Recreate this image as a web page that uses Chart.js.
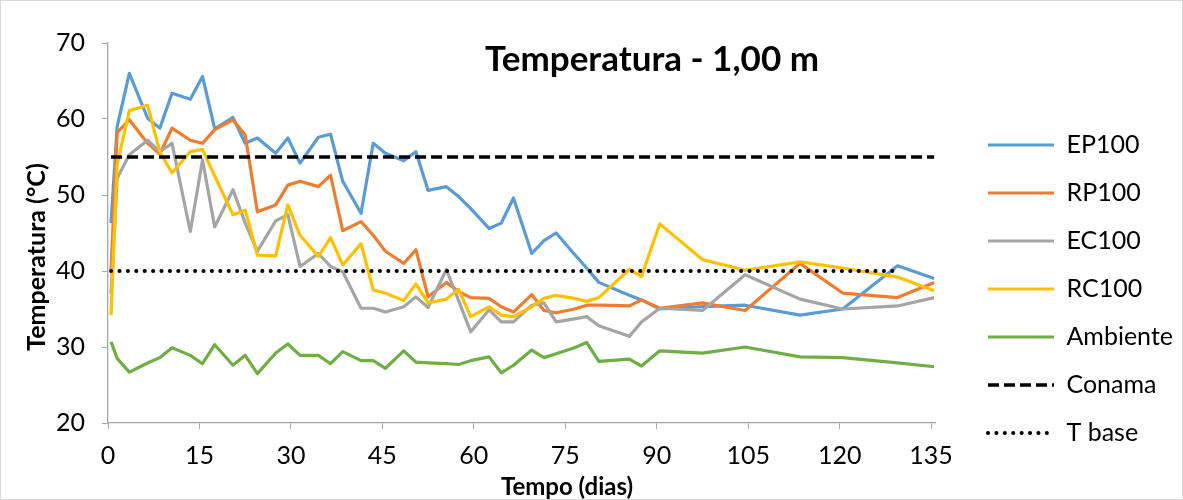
<!DOCTYPE html>
<html>
<head>
<meta charset="utf-8">
<script src="https://cdn.jsdelivr.net/npm/chart.js@4/dist/chart.umd.min.js"></script>
<style>
  body { margin: 0; background: #fff; }
  #wrap { width: 1183px; height: 500px; }
</style>
</head>
<body>
<div id="wrap"><canvas id="chart" width="1183" height="500"></canvas></div>
<script>
// sampling days (dias)
const days = [0.5, 1.5, 3.5, 6.5, 8.5, 10.5, 13.5, 15.5, 17.5, 20.5, 22.5, 24.5, 27.5, 29.5, 31.5,
  34.5, 36.5, 38.5, 41.5, 43.5, 45.5, 48.5, 50.5, 52.5, 55.5, 57.5, 59.5, 62.5, 64.5, 66.5,
  69.5, 71.5, 73.5, 76.5, 78.5, 80.5, 85.5, 87.5, 90.5, 97.5, 104.5, 113.5, 120.5, 129.5, 135.5]

const ep100 = [46.3, 59.0, 66.0, 60.1, 58.8, 63.4, 62.6, 65.6, 58.7, 60.2, 56.8, 57.5, 55.5, 57.5, 54.2,
  57.6, 58.0, 51.8, 47.6, 56.8, 55.5, 54.5, 55.7, 50.6, 51.1, 49.8, 48.2, 45.6, 46.3, 49.6,
  42.3, 44.0, 45.0, 42.2, 40.4, 38.5, 36.8, 36.2, 35.0, 35.3, 35.5, 34.2, 35.0, 40.7, 39.0]

const rp100 = [40.0, 58.2, 59.9, 56.8, 55.4, 58.8, 57.2, 56.8, 58.6, 59.9, 57.9, 47.8, 48.7, 51.3, 51.8,
  51.1, 52.6, 45.3, 46.5, 44.7, 42.6, 41.0, 42.8, 36.6, 38.5, 37.3, 36.5, 36.4, 35.3, 34.6,
  36.9, 34.8, 34.5, 35.0, 35.5, 35.5, 35.4, 36.2, 35.1, 35.8, 34.8, 41.0, 37.1, 36.5, 38.5]

const ec100 = [37.0, 52.2, 55.3, 57.2, 55.7, 56.8, 45.2, 54.6, 45.8, 50.7, 46.3, 42.6, 46.6, 47.4, 40.6,
  42.3, 40.6, 39.9, 35.1, 35.1, 34.6, 35.3, 36.6, 35.2, 40.2, 36.1, 32.0, 34.9, 33.3, 33.3,
  35.5, 35.8, 33.3, 33.7, 34.0, 32.8, 31.4, 33.3, 35.1, 34.8, 39.5, 36.3, 35.0, 35.4, 36.5]

const rc100 = [34.2, 54.0, 61.1, 61.8, 55.7, 52.9, 55.7, 56.0, 52.5, 47.4, 48.0, 42.1, 42.0, 48.7, 44.7,
  41.9, 44.4, 40.8, 43.6, 37.5, 37.1, 36.1, 38.3, 35.8, 36.3, 37.6, 34.0, 35.3, 34.2, 34.0,
  35.3, 36.4, 36.8, 36.4, 36.0, 36.5, 40.2, 39.3, 46.2, 41.5, 40.1, 41.2, 40.4, 39.2, 37.4]

const ambiente = [30.7, 28.5, 26.7, 27.9, 28.6, 29.9, 28.9, 27.8, 30.3, 27.6, 28.9, 26.5, 29.2, 30.4, 28.9,
  28.9, 27.8, 29.4, 28.2, 28.2, 27.2, 29.5, 28.0, 27.9, 27.8, 27.7, 28.2, 28.7, 26.6, 27.6,
  29.6, 28.6, 29.1, 29.9, 30.6, 28.1, 28.4, 27.5, 29.5, 29.2, 30.0, 28.7, 28.6, 27.9, 27.4]

// reference lines
const conamaX = [0.5, 135.5]
const conamaY = [55, 55]
const tbaseX = [0.5, 129.5]
const tbaseY = [40, 40]

const xTicks = [0, 15, 30, 45, 60, 75, 90, 105, 120, 135]

function pts(xs, ys) {
    return xs.map((x, i) => ({x: x, y: ys[i]}))
}

const FONT = 'Lato, "Open Sans", sans-serif'

const series = [
    {label: 'EP100', data: pts(days, ep100), color: '#5B9BD5'},
    {label: 'RP100', data: pts(days, rp100), color: '#ED7D31'},
    {label: 'EC100', data: pts(days, ec100), color: '#A5A5A5'},
    {label: 'RC100', data: pts(days, rc100), color: '#FFC000'},
    {label: 'Ambiente', data: pts(days, ambiente), color: '#70AD47'},
    {label: 'Conama', data: pts(conamaX, conamaY), color: '#000', dash: [11, 5], cap: 'butt', width: 3.4},
    {label: 'T base', data: pts(tbaseX, tbaseY), color: '#000', dash: [0.1, 8.3], cap: 'round', width: 4}
]

const datasets = series.map((s, i) => ({
    label: s.label,
    data: s.data,
    borderColor: s.color,
    backgroundColor: s.color,
    borderWidth: s.width || 3.2,
    borderDash: s.dash || [],
    borderCapStyle: s.cap || 'butt',
    borderJoinStyle: 'round',
    pointRadius: 0,
    tension: 0,
    fill: false,
    order: series.length - i   // later series drawn on top, like Excel
}))

// chart title, axis titles and outer frame
const extras = {
    id: 'extras',
    afterDraw(chart) {
        const ctx = chart.ctx
        ctx.save()
        ctx.strokeStyle = '#d9d9d9'
        ctx.lineWidth = 1
        ctx.strokeRect(0.5, 0.5, chart.width - 1, chart.height - 1)
        ctx.fillStyle = '#000'
        ctx.textAlign = 'center'
        ctx.textBaseline = 'middle'
        ctx.font = 'bold 35px ' + FONT
        ctx.fillText('Temperatura - 1,00 m', 652, 60)
        ctx.font = 'bold 24px ' + FONT
        ctx.fillText('Tempo (dias)', 567, 487)
        ctx.translate(37, 257)
        ctx.rotate(-Math.PI / 2)
        ctx.font = 'bold 25px ' + FONT
        ctx.fillText('Temperatura (°C)', 0, 0)
        ctx.restore()
    }
}

new Chart(document.getElementById('chart'), {
    type: 'line',
    data: {datasets: datasets},
    plugins: [extras],
    options: {
        responsive: false,
        animation: false,
        layout: {padding: {top: 43, right: 0, bottom: 0, left: 0}},
        plugins: {
            tooltip: {enabled: false},
            legend: {
                position: 'right',
                reverse: true,
                title: {display: true, text: '', font: {size: 10}, padding: {top: 23, bottom: 0}},
                labels: {
                    usePointStyle: true,
                    pointStyle: 'line',
                    pointStyleWidth: 66,
                    padding: 23,
                    color: '#000',
                    font: {family: FONT, size: 25},
                    generateLabels(chart) {
                        const items = Chart.defaults.plugins.legend.labels.generateLabels(chart)
                        items.forEach(it => {
                            const ds = chart.data.datasets[it.datasetIndex]
                            it.lineDash = ds.borderDash
                            it.lineCap = ds.borderCapStyle
                        })
                        return items
                    }
                }
            }
        },
        scales: {
            x: {
                type: 'linear',
                min: 0,
                max: 135.8,
                afterBuildTicks: s => { s.ticks = xTicks.map(v => ({value: v})) },
                afterFit: s => { s.height = 77 },
                grid: {drawOnChartArea: false, drawTicks: true, tickLength: 6, color: '#a6a6a6'},
                border: {display: true, color: '#a6a6a6', width: 1.3},
                ticks: {color: '#000', padding: 12, maxRotation: 0, font: {family: FONT, size: 25}}
            },
            y: {
                min: 20,
                max: 70,
                afterFit: s => { s.width = 108 },
                grid: {drawOnChartArea: false, drawTicks: true, tickLength: 6, color: '#a6a6a6'},
                border: {display: true, color: '#a6a6a6', width: 1.3},
                ticks: {stepSize: 10, color: '#000', padding: 17, font: {family: FONT, size: 25}}
            },
            // hidden spacer between the plot and the legend
            gap: {
                type: 'linear',
                position: 'right',
                display: false,
                afterFit: s => { s.width = 29 }
            }
        }
    }
})
</script>
</body>
</html>
